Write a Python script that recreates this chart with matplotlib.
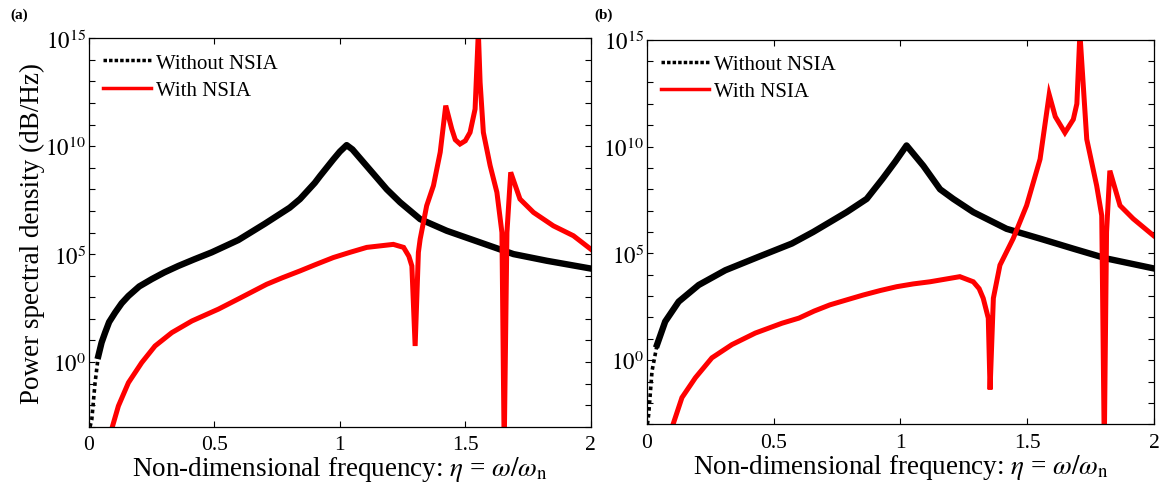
import numpy as np
import matplotlib
matplotlib.use("Agg")
from matplotlib import pyplot as plt
from matplotlib.lines import Line2D

plt.rcParams["font.family"] = ["Liberation Serif", "DejaVu Serif"]
plt.rcParams["mathtext.fontset"] = "stix"

# values: eta and log10(PSD)
# panel (a)
a_black_x = [0.004, 0.011, 0.024, 0.037, 0.05, 0.064, 0.08, 0.104, 0.13, 0.157, 0.2, 0.25,
             0.3, 0.356, 0.42, 0.489, 0.595, 0.7, 0.8, 0.841, 0.9, 0.921, 0.974, 1.0,
             1.027, 1.05, 1.107, 1.187, 1.24, 1.32, 1.426, 1.559, 1.692, 1.825, 2.0]
a_black_log = [-3, -2.66, -0.96, 0.28, 0.9, 1.36, 1.85, 2.29, 2.72, 3.06, 3.5, 3.84,
               4.15, 4.45, 4.76, 5.08, 5.65, 6.4, 7.15, 7.55, 8.3, 8.62, 9.39, 9.75,
               10.05, 9.85, 9.08, 8.0, 7.4, 6.62, 6.08, 5.54, 5.0, 4.69, 4.33]
a_red_x = [0.093, 0.117, 0.157, 0.21, 0.263, 0.33, 0.41, 0.516, 0.6, 0.708, 0.77, 0.841,
           0.9, 0.974, 1.04, 1.107, 1.16,
           1.213, 1.254, 1.275, 1.287, 1.3, 1.313, 1.32, 1.346, 1.373, 1.4, 1.422, 1.446,
           1.46, 1.479, 1.5, 1.519, 1.539, 1.552, 1.559, 1.572, 1.599, 1.626, 1.646, 1.655,
           1.666, 1.681, 1.718, 1.772, 1.851, 1.931, 2.0]
a_red_log = [-3, -2.04, -0.96, -0.03, 0.74, 1.36, 1.9, 2.45, 2.95, 3.6, 3.9, 4.22,
             4.5, 4.84, 5.08, 5.31, 5.38,
             5.45, 5.31, 4.9, 4.45, 0.74, 5.08, 5.69, 7.24, 8.17, 9.72, 11.88, 10.8,
             10.3, 10.1, 10.25, 10.64, 11.72, 15.3, 12.96, 10.64, 9.1, 7.86, 6.0, -4,
             6.0, 8.79, 7.55, 6.93, 6.31, 5.85, 5.23]

# panel (b)
b_black_x = [0.003, 0.008, 0.021, 0.041, 0.073, 0.126, 0.205, 0.31, 0.441, 0.572,
             0.656, 0.72, 0.788, 0.867, 0.93, 0.98, 1.024, 1.09,
             1.156, 1.208, 1.287, 1.418, 1.55, 1.681, 1.812, 2.0]
b_black_log = [-3, -2.53, -0.51, 0.73, 1.81, 2.74, 3.52, 4.21, 4.84, 5.46,
               6.0, 6.45, 6.93, 7.55, 8.5, 9.3, 10.05, 9.1,
               8.0, 7.55, 6.93, 6.15, 5.69, 5.22, 4.76, 4.29]
b_red_x = [0.104, 0.139, 0.192, 0.257, 0.336, 0.428, 0.533, 0.6, 0.66, 0.722,
           0.79, 0.853, 0.92, 0.985, 1.05, 1.116, 1.18, 1.234,
           1.287, 1.31, 1.326, 1.346, 1.353, 1.366, 1.392, 1.444, 1.497, 1.55, 1.586, 1.61,
           1.648, 1.681, 1.695, 1.707, 1.734, 1.773, 1.793, 1.803, 1.812, 1.825, 1.865,
           1.917, 1.996]
b_red_log = [-3, -1.75, -0.82, 0.11, 0.73, 1.27, 1.73, 1.97, 2.3, 2.59,
             2.83, 3.05, 3.26, 3.44, 3.57, 3.67, 3.8, 3.91,
             3.67, 3.35, 2.9, 1.97, -1.37, 2.9, 4.45, 5.69, 7.24, 9.41, 12.43, 11.4,
             10.65, 11.27, 12.0, 15.3, 10.34, 8.17, 6.77, -4, 6.0, 8.87, 7.24,
             6.62, 5.84]

xticks = [0, 0.5, 1, 1.5, 2]
xtick_labels = ["0", "0.5", "1", "1.5", "2"]
yticks = [1e0, 1e5, 1e10, 1e15]
ytick_labels = [r"$10^{0}$", r"$10^{5}$", r"$10^{10}$", r"$10^{15}$"]

fig = plt.figure(figsize=(11.61, 5.02), dpi=100)
ax1 = fig.add_axes([0.0767, 0.148, 0.4321, 0.7737])
ax2 = fig.add_axes([0.557, 0.1528, 0.4372, 0.7661])

panels = [
    (ax1, a_black_x, a_black_log, a_red_x, a_red_log),
    (ax2, b_black_x, b_black_log, b_red_x, b_red_log),
]

for ax, bx, by, rx, ry in panels:
    by = 10.0 ** np.array(by)
    # steep start of the dotted curve shows up as dots, rest looks solid
    ax.plot(bx[:4], by[:4], color="black", lw=2.6, ls=(0, (1, 0.9)))
    ax.plot(bx[3:], by[3:], color="black", lw=4.6, solid_joinstyle="round")
    ax.plot(rx, 10.0 ** np.array(ry), color="red", lw=3.6, solid_joinstyle="miter")
    ax.set_yscale("log")
    ax.set_xlim(0, 2)
    ax.set_ylim(1e-3, 1e15)
    ax.set_xticks(xticks)
    ax.set_xticklabels(xtick_labels)
    ax.set_yticks(yticks)
    ax.set_yticklabels(ytick_labels)
    ax.set_yticks([10.0 ** k for k in range(-3, 16)], minor=True)
    ax.yaxis.set_minor_formatter(plt.NullFormatter())
    ax.tick_params(which="both", direction="in", top=True, right=True, length=4,
                   width=0.8, pad=5)
    ax.tick_params(axis="x", labelsize=15.5, pad=6)
    ax.tick_params(axis="y", labelsize=16.5, pad=2)
    for s in ax.spines.values():
        s.set_linewidth(0.9)
    ax.set_xlabel(r"Non-dimensional frequency: $\eta$ = $\omega/\omega_{\rm n}$",
                  fontsize=19.5, labelpad=0)
    handles = [
        Line2D([], [], color="black", lw=2.5, ls=(0, (1, 0.6))),
        Line2D([], [], color="red", lw=2.5),
    ]
    ax.legend(handles, ["Without NSIA", "With NSIA"], loc="upper left",
              bbox_to_anchor=(0.028, 0.962), borderaxespad=0, borderpad=0,
              frameon=False, fontsize=15, handlelength=2.3, handletextpad=0.25,
              labelspacing=0.38)

ax1.set_ylabel("Power spectral density (dB/Hz)", fontsize=19.5, labelpad=0)
fig.text(0.009, 0.962, "(a)", fontsize=11, fontweight="bold")
fig.text(0.512, 0.962, "(b)", fontsize=11, fontweight="bold")

fig.savefig("out.png", dpi=100)
